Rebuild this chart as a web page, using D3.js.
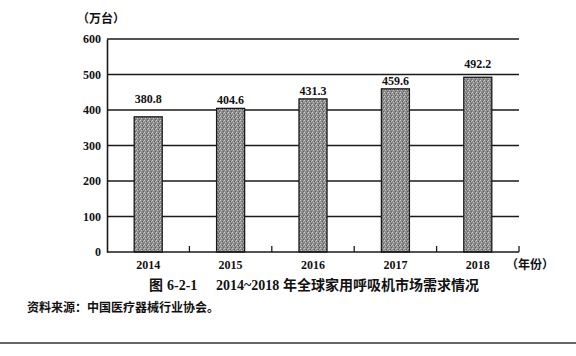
<!DOCTYPE html>
<html>
<head>
<meta charset="utf-8">
<script src="https://cdn.jsdelivr.net/npm/d3@7"></script>
<style>
  body { margin: 0; background: #fff; }
  text { font-family: "Liberation Serif", "Times New Roman", serif; font-weight: bold; fill: #111; }
  .cjk { font-family: "Noto Sans CJK SC", sans-serif; }
</style>
</head>
<body>
<div id="chart"></div>
<script>
// data
const years = ["2014", "2015", "2016", "2017", "2018"];
const demand = [380.8, 404.6, 431.3, 459.6, 492.2];
const yTicks = [0, 100, 200, 300, 400, 500, 600];

const W = 576, H = 356;
const margin = {top: 39, left: 107, right: 57, bottom: 104};

var svg = d3.select("#chart")
    .append("svg")
    .attr("width", W)
    .attr("height", H);

// stipple texture for the bars (fixed layout, no randomness)
var defs = svg.append("defs");
var pat = defs.append("pattern")
    .attr("id", "stipple")
    .attr("width", 4).attr("height", 4)
    .attr("patternUnits", "userSpaceOnUse");
pat.append("rect").attr("width", 4).attr("height", 4).attr("fill", "#8c8c8c");
pat.append("rect").attr("x", 0).attr("y", 0).attr("width", 1).attr("height", 1).attr("fill", "#d0d0d0");
pat.append("rect").attr("x", 2).attr("y", 1).attr("width", 1).attr("height", 1).attr("fill", "#555");
pat.append("rect").attr("x", 1).attr("y", 2).attr("width", 1).attr("height", 1).attr("fill", "#c4c4c4");
pat.append("rect").attr("x", 3).attr("y", 3).attr("width", 1).attr("height", 1).attr("fill", "#666");
pat.append("rect").attr("x", 3).attr("y", 1).attr("width", 1).attr("height", 1).attr("fill", "#b5b5b5");

var x = d3.scaleBand()
    .domain(years)
    .range([margin.left, W - margin.right])
    .paddingInner(0.66)
    .paddingOuter(0.33);

var y = d3.scaleLinear()
    .domain([0, 600])
    .range([H - margin.bottom, margin.top]);

// gridlines
svg.append("g")
    .selectAll("line")
    .data(yTicks.slice(1))
    .enter()
    .append("line")
    .attr("x1", margin.left)
    .attr("x2", W - margin.right)
    .attr("y1", d => y(d))
    .attr("y2", d => y(d))
    .attr("stroke", "#1a1a1a")
    .attr("stroke-width", 1.4);

// y axis
var yAxis = svg.append("g")
    .attr("transform", "translate(" + margin.left + ",0)")
    .call(d3.axisLeft(y).tickValues(yTicks).tickSize(0).tickPadding(6));
yAxis.select(".domain").attr("stroke", "#1a1a1a").attr("stroke-width", 1.6);
yAxis.selectAll("text")
    .attr("font-size", 12)
    .style("font-family", "'Liberation Serif', serif")
    .style("font-weight", "bold")
    .attr("fill", "#111");

// bars
svg.append("g")
    .selectAll("rect")
    .data(demand)
    .enter()
    .append("rect")
    .attr("x", (d, i) => x(years[i]))
    .attr("y", d => y(d))
    .attr("width", x.bandwidth())
    .attr("height", d => y(0) - y(d))
    .attr("fill", "url(#stipple)")
    .attr("stroke", "#1a1a1a")
    .attr("stroke-width", 1.3);

// value labels: sit just above the bar, but hop over a gridline they would touch
function labelY(d) {
    var base = y(d) - 4;
    yTicks.forEach(function(t) {
        var g = y(t);
        if (g >= base - 9 && g <= base + 3) base = g - 7;
    });
    return base;
}
svg.append("g")
    .selectAll("text")
    .data(demand)
    .enter()
    .append("text")
    .attr("x", (d, i) => x(years[i]) + x.bandwidth() / 2)
    .attr("y", labelY)
    .attr("text-anchor", "middle")
    .attr("font-size", 12)
    .text(d => d.toFixed(1));

// x axis: baseline with small upward ticks between categories
var step = x.step();
var xAxis = svg.append("g")
    .attr("transform", "translate(0," + y(0) + ")");
xAxis.append("line")
    .attr("x1", margin.left).attr("x2", W - margin.right)
    .attr("stroke", "#1a1a1a").attr("stroke-width", 1.6);
xAxis.selectAll(".tk")
    .data(years)
    .enter()
    .append("line")
    .attr("class", "tk")
    .attr("x1", d => x(d) + x.bandwidth() / 2 + step / 2)
    .attr("x2", d => x(d) + x.bandwidth() / 2 + step / 2)
    .attr("y1", 0).attr("y2", -6)
    .attr("stroke", "#1a1a1a").attr("stroke-width", 1.3);
xAxis.selectAll(".lbl")
    .data(years)
    .enter()
    .append("text")
    .attr("class", "lbl")
    .attr("x", d => x(d) + x.bandwidth() / 2)
    .attr("y", 17)
    .attr("text-anchor", "middle")
    .attr("font-size", 12)
    .text(d => d);

// unit labels
svg.append("text")
    .attr("class", "cjk")
    .attr("x", 77).attr("y", 23)
    .attr("font-size", 12)
    .text("（万台）");
svg.append("text")
    .attr("class", "cjk")
    .attr("x", 506).attr("y", 269)
    .attr("font-size", 12)
    .text("（年份）");

// caption
var cap = svg.append("text")
    .attr("y", 290)
    .attr("font-size", 14);
cap.append("tspan").attr("class", "cjk").attr("x", 149).text("图");
cap.append("tspan").attr("x", 167).text("6-2-1");
cap.append("tspan").attr("x", 216).text("2014~2018");
cap.append("tspan").attr("class", "cjk").attr("x", 283).text("年全球家用呼吸机市场需求情况");

svg.append("text")
    .attr("class", "cjk")
    .attr("x", 27).attr("y", 312)
    .attr("font-size", 12)
    .text("资料来源：中国医疗器械行业协会。");

// rule at the bottom of the page
svg.append("line")
    .attr("x1", 0).attr("x2", W)
    .attr("y1", 343).attr("y2", 343)
    .attr("stroke", "#333").attr("stroke-width", 1.5);
</script>
</body>
</html>
